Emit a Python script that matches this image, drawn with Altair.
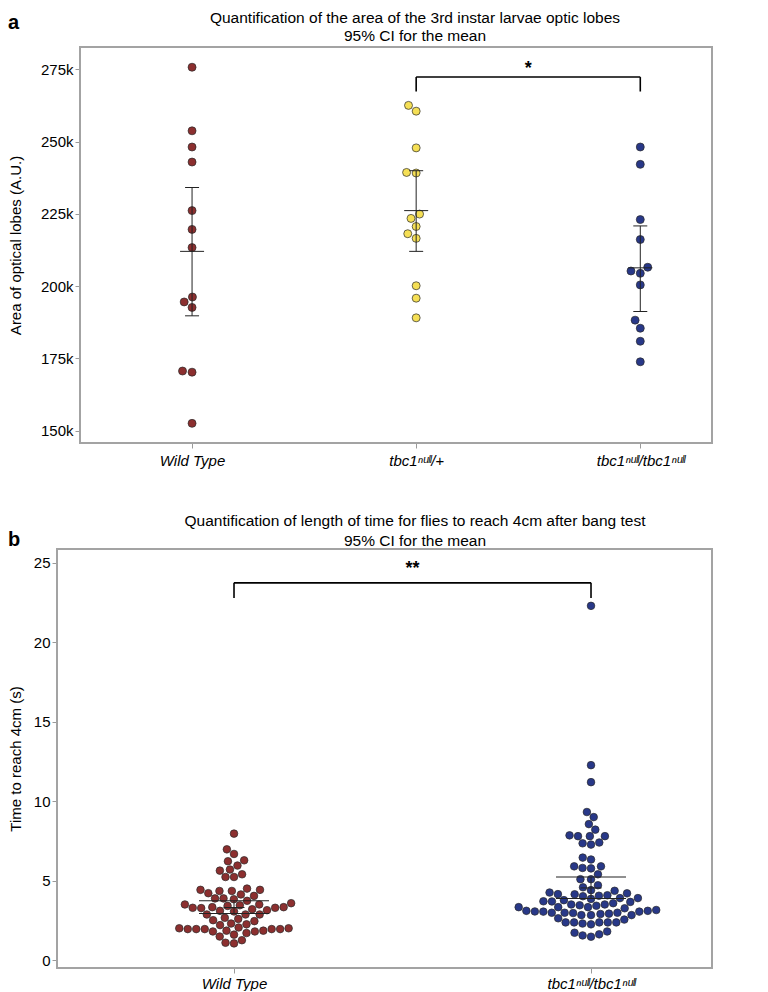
import json
import numpy as np
import pandas as pd
import altair as alt

# ---------------- data: panel a (area of optic lobes, A.U.) ----------------
groups_a = ["Wild Type", "tbc1ⁿᵘˡˡ/+", "tbc1ⁿᵘˡˡ/tbc1ⁿᵘˡˡ"]
wt_a = [275.7, 253.7, 248.1, 242.9, 226.1, 219.6, 213.3, 196.2, 194.5, 192.6, 170.2, 170.6, 152.5]
het_a = [262.5, 260.5, 247.8, 239.1, 239.3, 224.9, 223.4, 220.6, 218.1, 216.5, 200.1, 195.8, 189.0]
hom_a = [248.1, 242.1, 223.0, 216.1, 206.5, 205.2, 204.4, 200.4, 188.2, 185.4, 180.9, 173.8]
mean_a = [212.0, 226.1, 206.3]
lo_a = [189.7, 212.0, 191.2]
hi_a = [234.1, 239.9, 220.8]
colors_a = ["#8c2f2f", "#f5df55", "#283888"]

# ---------------- data: panel b (time to reach 4cm, s) ----------------
groups_b = ["Wild Type", "tbc1ⁿᵘˡˡ/tbc1ⁿᵘˡˡ"]
wt_b = [7.96, 6.97, 6.68, 6.28, 6.22, 5.95, 5.70, 5.63, 5.40, 5.23, 5.23,
        4.50, 4.42, 4.42, 4.35, 4.35, 4.21, 4.13, 4.04, 3.88, 3.88, 3.83, 3.73,
        3.58, 3.50, 3.50, 3.45, 3.41, 3.33, 3.33, 3.29, 3.29, 3.27, 3.20, 3.14,
        3.10, 3.06, 2.87, 2.87, 2.87, 2.66, 2.59,
        2.51, 2.45, 2.30, 2.25, 2.20,
        1.95, 2.05, 1.85, 1.80, 1.95, 1.80, 1.85, 1.95, 1.70, 1.60, 1.95, 2.00,
        1.95, 2.00, 1.48,
        1.09, 1.25, 1.05]
hom_b = [22.3, 12.27, 11.20, 9.32, 9.00, 8.56, 8.21, 7.85, 7.80, 7.80, 7.80,
         7.35, 7.27, 7.40, 6.45, 6.33, 5.77, 5.90, 5.90, 5.80, 5.40, 5.09, 5.09,
         4.71, 4.58, 4.40, 4.36, 4.25,
         4.08, 4.14, 4.02, 3.90, 4.15, 4.05, 4.20, 3.90, 3.85,
         3.70, 3.42, 3.50, 3.50, 3.58, 3.77, 3.66, 3.69, 3.33, 3.45, 3.33, 3.26, 3.33, 3.10,
         3.10, 2.83, 2.98, 2.92, 2.83, 2.90, 3.05, 2.96, 2.98, 3.15, 3.06, 2.63, 2.83, 2.98, 3.05,
         2.37, 2.37, 2.37, 2.37, 2.55, 2.30, 2.25, 2.37,
         1.72, 1.47, 1.80, 1.62, 1.55]
mean_b = [3.31, 4.54]
lo_b = [2.93, 3.88]
hi_b = [3.73, 5.23]
colors_b = ["#8c2f2f", "#283888"]

# ---------------- layout constants ----------------
FONT = "Liberation Sans"
FS = 15
WA, HA = 632, 396
YA_DOM = [145700, 282700]
XA_DOM = [-0.5, 2.32]
WB, HB = 632, 419
YB_DOM = [-0.5, 25.88]
XB_DOM = [-0.4314, 1.3389]
FRAME_B_LEFT = -23


def swarm(values, px_per_unit, diam):
    """Simple beeswarm: horizontal pixel offsets so circles do not overlap."""
    ys = np.asarray(values, dtype=float) * px_per_unit
    order = np.argsort(ys, kind="stable")
    placed = []
    offs = np.zeros(len(ys))
    for i in order:
        y = ys[i]
        iv = []
        for py, px in placed:
            dy = abs(py - y)
            if dy < diam:
                w = np.sqrt(diam ** 2 - dy ** 2)
                iv.append((px - w, px + w))
        cands = [0.0] + [a for a, _ in iv] + [b for _, b in iv]
        cands.sort(key=lambda c: (abs(c), c))
        for c in cands:
            if all(not (a + 1e-6 < c < b - 1e-6) for a, b in iv):
                offs[i] = c
                break
        placed.append((y, offs[i]))
    return offs


def points_frame(groups, series, ppu, diam, spacing_px, scale=1.0):
    rows = []
    for gi, (g, vals) in enumerate(zip(groups, series)):
        offs = swarm(vals, ppu, diam)
        for v, o in zip(vals, offs):
            rows.append({"group": g, "gx": gi + o / spacing_px, "value": v * scale})
    return pd.DataFrame(rows)


# panel a
ppu_a = HA / ((YA_DOM[1] - YA_DOM[0]) / 1000.0)
spacing_a = WA / (XA_DOM[1] - XA_DOM[0])
df_a = points_frame(groups_a, [wt_a, het_a, hom_a], ppu_a, 9.6, spacing_a, 1000.0)
stats_a = pd.DataFrame({
    "gx": list(range(3)),
    "mean": [m * 1000 for m in mean_a],
    "lo": [m * 1000 for m in lo_a],
    "hi": [m * 1000 for m in hi_a],
})

# panel b
ppu_b = HB / (YB_DOM[1] - YB_DOM[0])
spacing_b = WB / (XB_DOM[1] - XB_DOM[0])
df_b = points_frame(groups_b, [wt_b, hom_b], ppu_b, 8.5, spacing_b)
stats_b = pd.DataFrame({"gx": [0, 1], "mean": mean_b, "lo": lo_b, "hi": hi_b})

# significance brackets (group positions and value levels)
br_a = {"x1": 1, "x2": 2, "y": 272300, "yleg": 267300, "ytxt": 275200, "label": "*"}
br_b = {"x1": 0, "x2": 1, "y": 23.75, "yleg": 22.8, "ytxt": 24.6, "label": "**"}


def label_expr(groups):
    return json.dumps(groups, ensure_ascii=False) + "[datum.value]"


def panel(df, stats, groups, colors, W, H, xdom, ydom, yvals, ylabexpr, ytitle,
          yoffset, ytitlex, frame_left, size, cap_w, mean_w, br, title1, title2,
          tdx, ty1, ty2, letter, lx, ly, xlabpad):
    x = alt.X("gx:Q", scale=alt.Scale(domain=xdom, nice=False, zero=False),
              axis=alt.Axis(values=list(range(len(groups))), labelExpr=label_expr(groups),
                            title=None, grid=False, domain=False, tickColor="#9a9a9a",
                            tickSize=5, tickWidth=1, labelFontStyle="italic",
                            labelFontSize=FS, labelColor="black", labelPadding=xlabpad,
                            labelFont=FONT))
    axis_kw = dict(values=yvals, title=ytitle, grid=False, domain=False,
                   tickColor="#9a9a9a", tickSize=5, tickWidth=1, labelFontSize=FS,
                   labelColor="black", labelPadding=2, titleFontSize=FS,
                   titleFontWeight="normal", titleColor="black", labelFont=FONT,
                   titleFont=FONT, offset=yoffset, titleX=ytitlex, titleY=H / 2,
                   titleAngle=270, titleBaseline="bottom", titleAlign="center")
    if ylabexpr:
        axis_kw["labelExpr"] = ylabexpr
    yaxis = alt.Axis(**axis_kw)
    yscale = alt.Scale(domain=ydom, nice=False, zero=False)

    frame = alt.Chart(pd.DataFrame({"f": [0]})).mark_rect(
        fill="transparent", stroke="#a3a3a3", strokeWidth=2).encode(
        x=alt.value(frame_left), x2=alt.value(W), y=alt.value(0), y2=alt.value(H))

    pts = alt.Chart(df).mark_point(filled=True, shape="circle", size=size,
                                   stroke="#2a2a2a", strokeWidth=0.7, opacity=1).encode(
        x=x,
        y=alt.Y("value:Q", scale=yscale, axis=yaxis),
        fill=alt.Fill("group:N", scale=alt.Scale(domain=groups, range=colors), legend=None),
    )
    base = alt.Chart(stats).encode(x=alt.X("gx:Q"))
    bar = base.mark_rule(color="#222222", strokeWidth=1).encode(y="lo:Q", y2="hi:Q")
    cap_lo = base.mark_tick(orient="horizontal", size=cap_w, thickness=1,
                            color="#222222", opacity=1).encode(y="lo:Q")
    cap_hi = base.mark_tick(orient="horizontal", size=cap_w, thickness=1,
                            color="#222222", opacity=1).encode(y="hi:Q")
    mean = base.mark_tick(orient="horizontal", size=mean_w, thickness=1,
                          color="#222222", opacity=1).encode(y="mean:Q")

    bdf = pd.DataFrame([br])
    bk = alt.Chart(bdf)
    h = bk.mark_rule(color="black", strokeWidth=1.6).encode(x="x1:Q", x2="x2:Q", y="y:Q")
    l1 = bk.mark_rule(color="black", strokeWidth=1.6).encode(x="x1:Q", y="y:Q", y2="yleg:Q")
    l2 = bk.mark_rule(color="black", strokeWidth=1.6).encode(x="x2:Q", y="y:Q", y2="yleg:Q")
    star = bk.transform_calculate(xm="(datum.x1 + datum.x2) / 2").mark_text(
        fontSize=18, font=FONT, fontWeight="bold", color="black", baseline="middle").encode(
        x="xm:Q", y="ytxt:Q", text="label:N")

    t1 = alt.Chart(pd.DataFrame({"t": [title1]})).mark_text(
        fontSize=15.5, font=FONT, color="black", baseline="middle", align="center").encode(
        x=alt.value(W / 2 + tdx), y=alt.value(ty1), text="t:N")
    t2 = alt.Chart(pd.DataFrame({"t": [title2]})).mark_text(
        fontSize=15.5, font=FONT, color="black", baseline="middle", align="center").encode(
        x=alt.value(W / 2 + tdx), y=alt.value(ty2), text="t:N")
    let = alt.Chart(pd.DataFrame({"t": [letter]})).mark_text(
        fontSize=20, font=FONT, fontWeight="bold", color="black", baseline="middle",
        align="left").encode(x=alt.value(lx), y=alt.value(ly), text="t:N")

    return alt.layer(frame, pts, bar, cap_lo, cap_hi, mean, h, l1, l2, star, t1, t2, let).properties(
        width=W, height=H)


chart_a = panel(df_a, stats_a, groups_a, colors_a, WA, HA, XA_DOM, YA_DOM,
                [150000, 175000, 200000, 225000, 250000, 275000],
                "datum.value / 1000 + 'k'", "Area of optical lobes (A.U.)",
                0, -57, 0, 64, 14, 24, br_a,
                "Quantification of the area of the 3rd instar larvae optic lobes",
                "95% CI for the mean", 19, -29, -11, "a", -72, -24, 5)

chart_b = panel(df_b, stats_b, groups_b, colors_b, WB, HB, XB_DOM, YB_DOM,
                [0, 5, 10, 15, 20, 25], None, "Time to reach 4cm (s)",
                -FRAME_B_LEFT, -57 - FRAME_B_LEFT, FRAME_B_LEFT, 58, 70, 21, br_b,
                "Quantification of length of time for flies to reach 4cm after bang test",
                "95% CI for the mean", 19, -28, -8, "b", -72, -9, 3)

chart = alt.concat(chart_a, chart_b, columns=1, spacing=46).properties(
    padding={"top": 3, "left": 0, "right": 0, "bottom": 0}
).configure(
    font=FONT
).configure_view(
    stroke="transparent", strokeWidth=0
)

chart.save("out.html", embed_options={"renderer": "svg", "actions": False})
